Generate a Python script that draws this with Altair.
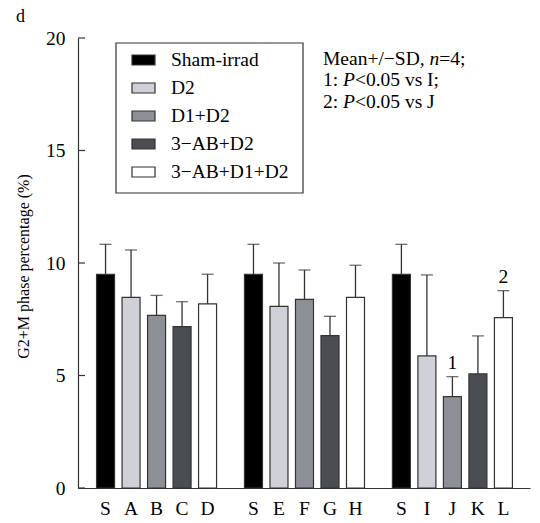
import altair as alt
import pandas as pd

# ---- data ----
treatments = ["Sham-irrad", "D2", "D1+D2", "3−AB+D2", "3−AB+D1+D2"]
fills = ["#000000", "#cfd0d8", "#8e9098", "#4a4d52", "#ffffff"]
labels = ["S", "A", "B", "C", "D", "S", "E", "F", "G", "H", "S", "I", "J", "K", "L"]
means = [9.5, 8.47, 7.67, 7.17, 8.18, 9.5, 8.07, 8.38, 6.77, 8.47, 9.5, 5.87, 4.06, 5.07, 7.57]
sds = [1.33, 2.11, 0.89, 1.11, 1.32, 1.33, 1.93, 1.31, 0.86, 1.43, 1.33, 3.60, 0.89, 1.69, 1.20]
marks = ["", "", "", "", "", "", "", "", "", "", "", "", "1", "", "2"]
y_ticks = [0, 5, 10, 15, 20]

FONT = "Liberation Serif"
FS = 19.5
INK = "#333333"

# slot positions: 5 bars per group, step 5 units, groups 29 units apart
pos = [g * 29 + i * 5 for g in range(3) for i in range(5)]
df = pd.DataFrame({
    "pos": pos,
    "label": labels,
    "treatment": [treatments[i % 5] for i in range(15)],
    "mean": means,
    "upper": [m + s for m, s in zip(means, sds)],
    "mark": marks,
})

xscale = alt.Scale(domain=[-4.42, 82.23], nice=False, zero=False)
yscale = alt.Scale(domain=[0, 20], nice=False)

x_enc = alt.X("pos:Q", scale=xscale, axis=alt.Axis(
    values=pos, labels=False, ticks=False, grid=False, title=None,
    domainColor=INK, domainWidth=1.2))

bars = alt.Chart(df).mark_bar(size=18, stroke=INK, strokeWidth=1.2).encode(
    x=x_enc,
    y=alt.Y("mean:Q", scale=yscale, axis=alt.Axis(
        values=y_ticks, ticks=False, grid=False,
        title="G2+M phase percentage (%)", titleFont=FONT, titleFontSize=16,
        titleFontWeight="normal", titleColor="black", titleX=-55, titleY=228,
        titleAngle=270, titleAlign="center", titleBaseline="middle",
        labelFont=FONT, labelFontSize=FS, labelColor="black", labelPadding=13,
        labelOverlap=False, domainColor=INK, domainWidth=1.2)),
    color=alt.Color("treatment:N", scale=alt.Scale(domain=treatments, range=fills),
                    legend=alt.Legend(
                        orient="none", legendX=53, legendY=9.5, padding=0, title=None,
                        symbolType="M-1,-0.435H1V0.435H-1Z", symbolSize=529,
                        symbolStrokeColor=INK, symbolStrokeWidth=1.2, symbolOpacity=1,
                        labelFont=FONT, labelFontSize=FS, labelColor="black",
                        labelOffset=15, rowPadding=6, labelLimit=300)),
)

err = alt.Chart(df).mark_rule(color=INK, strokeWidth=1.3).encode(
    x=alt.X("pos:Q", scale=xscale), y=alt.Y("mean:Q", scale=yscale), y2="upper:Q")
caps = alt.Chart(df).mark_tick(orient="horizontal", size=12, thickness=1.3, color=INK).encode(
    x=alt.X("pos:Q", scale=xscale), y=alt.Y("upper:Q", scale=yscale))
sig = alt.Chart(df).mark_text(dy=-14, font=FONT, fontSize=FS, color="black", baseline="middle").encode(
    x=alt.X("pos:Q", scale=xscale), y=alt.Y("upper:Q", scale=yscale), text="mark:N")

# category labels under the bars
xlabels = alt.Chart(df).mark_text(font=FONT, fontSize=FS, color="black", baseline="alphabetic").encode(
    x=alt.X("pos:Q", scale=xscale), y=alt.value(477), text="label:N")

tick_df = pd.DataFrame({"t": y_ticks})
yticks = alt.Chart(tick_df).mark_rule(color=INK, strokeWidth=1.2).encode(
    y=alt.Y("t:Q", scale=yscale), x=alt.value(0), x2=alt.value(7))

one = pd.DataFrame({"k": [0]})
box = alt.Chart(one).mark_rect(fillOpacity=0, stroke=INK, strokeWidth=1.2).encode(
    x=alt.value(38), x2=alt.value(225), y=alt.value(5), y2=alt.value(155))


def txt(s, x, y, italic=False, size=FS):
    kw = dict(text=s, align="left", baseline="alphabetic", font=FONT, fontSize=size, color="black")
    if italic:
        kw["fontStyle"] = "italic"
    return alt.Chart(one).mark_text(**kw).encode(x=alt.value(x), y=alt.value(y))


x0 = 245
notes = [
    txt("d", -62, -16, size=18),
    txt("Mean+/−SD,", x0, 27), txt("n", x0 + 106.5, 27, True), txt("=4;", x0 + 116.3, 27),
    txt("1:", x0, 48), txt("P", x0 + 20.0, 48, True), txt("<0.05 vs I;", x0 + 31.9, 48),
    txt("2:", x0, 70), txt("P", x0 + 20.0, 70, True), txt("<0.05 vs J", x0 + 31.9, 70),
]

chart = alt.layer(bars, err, caps, sig, xlabels, yticks, box, *notes).properties(
    width=452, height=450,
    padding={"left": 70, "top": 30, "right": 2, "bottom": 27},
    autosize=alt.AutoSizeParams(type="none"),
    background="white",
).configure_view(stroke=None)

chart.save("out.html", embed_options={"renderer": "svg", "actions": False})
